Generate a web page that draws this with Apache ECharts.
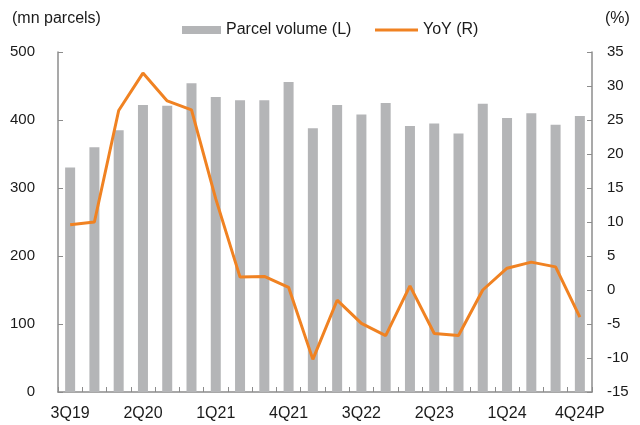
<!DOCTYPE html>
<html lang="en">
  <head>
    <meta charset="UTF-8" />
    <title>Parcel volume and YoY</title>
    <script src="https://cdn.jsdelivr.net/npm/echarts@6/dist/echarts.min.js"></script>
    <style>
      body { margin: 0; background: #fff; }
    </style>
  </head>
  <body>
    <div id="main" style="width: 640px; height: 425px"></div>
    <script type="text/javascript">
      // Quarters, parcel volume (mn parcels) and YoY growth (%)
      const quarters = [
        "3Q19", "4Q19", "1Q20", "2Q20", "3Q20", "4Q20", "1Q21", "2Q21",
        "3Q21", "4Q21", "1Q22", "2Q22", "3Q22", "4Q22", "1Q23", "2Q23",
        "3Q23", "4Q23", "1Q24", "2Q24", "3Q24", "4Q24P"
      ];
      const parcelVolume = [
        330, 360, 385, 422, 421, 454, 434, 429, 429, 456, 388, 422,
        408, 425, 391, 395, 380, 424, 403, 410, 393, 406
      ];
      const yoy = [
        9.6, 10.0, 26.4, 31.9, 27.8, 26.5, 13.4, 1.9, 2.0, 0.4, -10.2, -1.5,
        -4.9, -6.7, 0.6, -6.4, -6.7, 0.0, 3.2, 4.1, 3.4, -4.0
      ];

      const font = "Liberation Sans, Arial, sans-serif";
      const axisGrey = "#8c8c8c";
      const textColor = "#1a1a1a";

      let myChart = echarts.init(document.getElementById("main"));

      let options = {
        animation: false,
        textStyle: { fontFamily: font },
        grid: { left: 58, right: 48, top: 52, bottom: 33 },
        // two legends so the bar swatch and the line swatch can differ in height
        legend: [
          {
            top: 17, left: 177,
            itemWidth: 39, itemHeight: 8,
            textStyle: { fontFamily: font, fontSize: 16, color: textColor },
            data: [{ name: "Parcel volume (L)", icon: "rect" }]
          },
          {
            top: 17, left: 370,
            itemWidth: 43, itemHeight: 3,
            textStyle: { fontFamily: font, fontSize: 16, color: textColor },
            data: [{ name: "YoY (R)", icon: "rect" }]
          }
        ],
        graphic: [
          {
            type: "text", left: 12, top: 11,
            style: { text: "(mn parcels)", font: "16px " + font, fill: textColor }
          },
          {
            type: "text", left: 605, top: 11,
            style: { text: "(%)", font: "16px " + font, fill: textColor }
          }
        ],
        xAxis: {
          type: "category",
          data: quarters,
          axisLine: { lineStyle: { color: axisGrey, width: 1.5 } },
          axisTick: { show: true, inside: true, length: 5, interval: 0, lineStyle: { color: axisGrey } },
          axisLabel: { interval: 2, fontSize: 16, color: textColor, margin: 14 }
        },
        yAxis: [
          {
            type: "value",
            min: 0, max: 500, interval: 100,
            axisLine: { show: true, lineStyle: { color: axisGrey, width: 1.5 } },
            axisTick: { show: true, inside: true, length: 5, lineStyle: { color: axisGrey } },
            axisLabel: { fontSize: 15, color: textColor, margin: 23 },
            splitLine: { show: false }
          },
          {
            type: "value",
            min: -15, max: 35, interval: 5,
            axisLine: { show: true, lineStyle: { color: axisGrey, width: 1.5 } },
            axisTick: { show: true, inside: true, length: 5, lineStyle: { color: axisGrey } },
            axisLabel: { fontSize: 15, color: textColor, margin: 15 },
            splitLine: { show: false }
          }
        ],
        series: [
          {
            name: "Parcel volume (L)",
            type: "bar",
            data: parcelVolume,
            barWidth: 10,
            itemStyle: { color: "#b4b5b7" }
          },
          {
            name: "YoY (R)",
            type: "line",
            yAxisIndex: 1,
            data: yoy,
            symbol: "none",
            lineStyle: { color: "#f08222", width: 3 },
            itemStyle: { color: "#f08222" }
          }
        ]
      };

      myChart.setOption(options);
    </script>
  </body>
</html>
